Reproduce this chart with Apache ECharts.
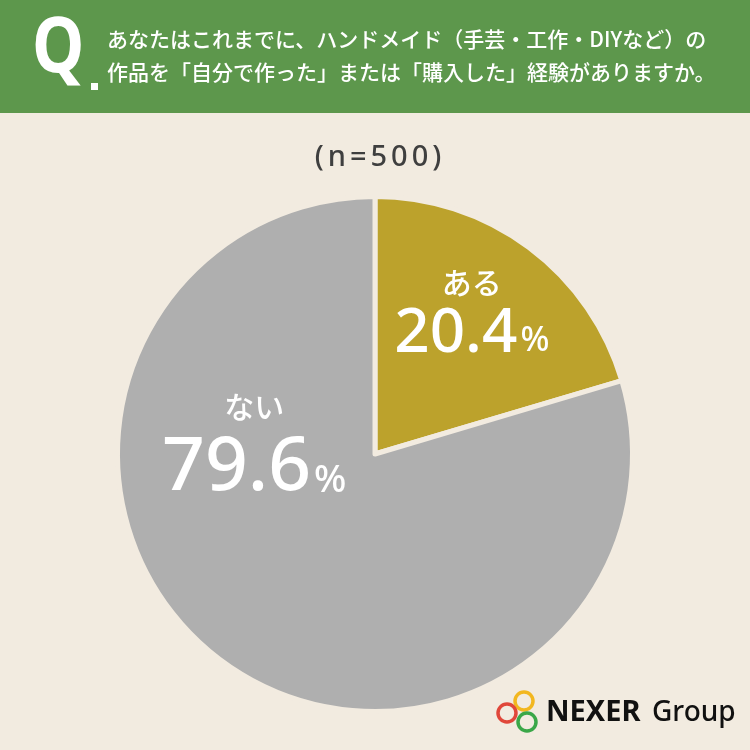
<!DOCTYPE html>
<html>
<head>
<meta charset="utf-8">
<script src="https://cdn.jsdelivr.net/npm/echarts@6/dist/echarts.min.js"></script>
<style>
html,body{margin:0;padding:0;background:#f2ebe0;}
#chart{width:750px;height:750px;}
</style>
</head>
<body>
<div id="chart"></div>
<script>
// ---- data ----
var categories = ['ある', 'ない'];
var values = [20.4, 79.6];
var sampleNote = '(n=500)';
var questionLines = [
  'あなたはこれまでに、ハンドメイド（手芸・工作・DIYなど）の',
  '作品を「自分で作った」または「購入した」経験がありますか。'
];
var brandNames = ['NEXER', 'Group'];

// ---- styles ----
var sliceColors = ['#bca22c', '#afafaf'];
var bg = '#f2ebe0';
var labelOffsets = [{dx: 18, dy: -34}, {dx: -42, dy: -111}];
var richBig = [
  {val: 62, valLh: 64, pct: 34},
  {val: 75, valLh: 84, pct: 38}
];

var chart = echarts.init(document.getElementById('chart'), null, {renderer: 'canvas'});

var data = categories.map(function (c, i) {
  var r = richBig[i];
  return {
    name: c,
    value: values[i],
    itemStyle: {color: sliceColors[i]},
    label: {
      rich: {
        name: {fontSize: 30, lineHeight: 40, color: '#fff', fontFamily: 'Noto Sans CJK JP', fontWeight: 500},
        val: {fontSize: r.val, lineHeight: r.valLh, color: '#fff', fontFamily: 'Noto Sans', fontWeight: 500},
        pct: {fontSize: r.pct, lineHeight: r.valLh, color: '#fff', fontFamily: 'Noto Sans', fontWeight: 500, verticalAlign: 'bottom', padding: [0, 0, Math.round(r.valLh * 0.12), 3]}
      }
    }
  };
});

// spaced characters for the sample note
var noteRich = sampleNote.split('').map(function (ch) { return '{c|' + ch + '}'; }).join('');

var option = {
  backgroundColor: bg,
  animation: false,
  graphic: [
    {type: 'rect', left: 0, top: 0, shape: {width: 750, height: 113}, style: {fill: '#5d974c'}, silent: true},
    {type: 'text', x: 32, y: 12, scaleX: 0.86, style: {text: 'Q', fill: '#fff', font: 'bold 77px "Noto Sans"', textVerticalAlign: 'top'}},
    {type: 'rect', shape: {x: 91, y: 83, width: 7, height: 7}, style: {fill: '#fff'}},
    {type: 'text', x: 107, y: 39, style: {text: questionLines[0], fill: '#fff', font: '500 21px "Noto Sans CJK JP"', textVerticalAlign: 'middle'}},
    {type: 'text', x: 107, y: 72, style: {text: questionLines[1], fill: '#fff', font: '500 21px "Noto Sans CJK JP"', textVerticalAlign: 'middle'}},
    {type: 'text', x: 378, y: 158, style: {text: noteRich, textAlign: 'center', textVerticalAlign: 'middle',
      rich: {c: {fill: '#3f3f3f', fontSize: 29, fontFamily: 'Noto Sans', fontWeight: 500, padding: [0, 2]}}}},
    {type: 'circle', shape: {cx: 524, cy: 701, r: 9}, style: {fill: 'none', stroke: '#f2b720', lineWidth: 3.5}},
    {type: 'circle', shape: {cx: 507, cy: 713, r: 9}, style: {fill: 'none', stroke: '#e0473a', lineWidth: 3.5}},
    {type: 'circle', shape: {cx: 527, cy: 722, r: 9}, style: {fill: 'none', stroke: '#3aa748', lineWidth: 3.5}},
    {type: 'text', x: 546, y: 713, style: {text: brandNames[0], fill: '#111', font: 'bold 29px "Noto Sans"', textVerticalAlign: 'middle'}},
    {type: 'text', x: 652, y: 713, style: {text: brandNames[1], fill: '#111', font: '500 28px "Noto Sans"', textVerticalAlign: 'middle'}}
  ],
  series: [{
    type: 'pie',
    center: [375, 454],
    radius: [0, 257.5],
    startAngle: 90,
    clockwise: true,
    silent: true,
    data: data,
    itemStyle: {borderColor: bg, borderWidth: 5},
    label: {
      show: true,
      position: 'inside',
      formatter: function (p) {
        return '{name|' + p.name + '}\n{val|' + p.value.toFixed(1) + '}{pct|%}';
      }
    },
    labelLine: {show: false},
    labelLayout: function (p) { return labelOffsets[p.dataIndex]; }
  }]
};
chart.setOption(option);
</script>
</body>
</html>
